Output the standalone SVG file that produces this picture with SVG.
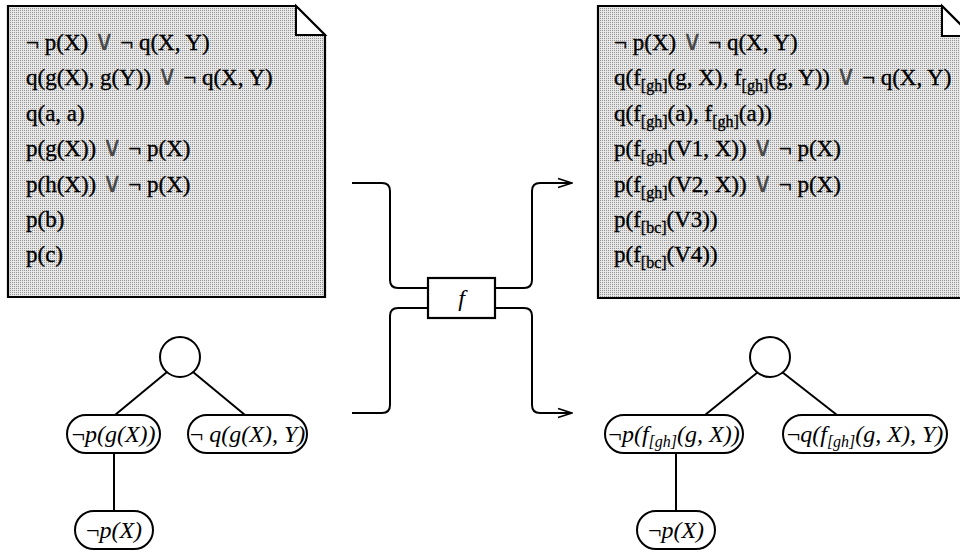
<svg xmlns="http://www.w3.org/2000/svg" width="960" height="554" viewBox="0 0 960 554">
<defs>
<pattern id="stip" width="2" height="2" patternUnits="userSpaceOnUse">
<rect width="2" height="2" fill="#e8e8e8"/>
<rect width="1" height="1" fill="#939393"/>
</pattern>
<marker id="arr" markerWidth="16" markerHeight="12" refX="15" refY="6" orient="auto" markerUnits="userSpaceOnUse">
<path d="M1,1.5 L15,6 L1,10.5" fill="none" stroke="#000" stroke-width="1.8"/>
</marker>
</defs>
<style>
.doc{fill:url(#stip);stroke:#000;stroke-width:2.2}
.fold{fill:#fff;stroke:#000;stroke-width:2}
.t{font-family:"Liberation Serif","Times New Roman",serif;font-size:23px;fill:#000;stroke:#000;stroke-width:0.35}
.or{font-family:"DejaVu Sans",sans-serif;font-size:28px;fill:#4a4a4a;stroke-width:0}
.sub{font-size:16px}
.wire{fill:none;stroke:#000;stroke-width:2}
.box{fill:#fff;stroke:#000;stroke-width:2.2}
.pill{fill:#fff;stroke:#000;stroke-width:2}
.ti{font-family:"Liberation Serif","Times New Roman",serif;font-size:24px;font-style:italic;fill:#000}
.neg{font-style:normal}
.edge{stroke:#000;stroke-width:2}
</style>

<g id="doc-left">
<path class="doc" d="M8,6 H296 L325,35 V297 H8 Z"/>
<path class="fold" d="M296,6 V35 H325 Z"/>
<text class="t" x="26" y="50">¬ p(X) <tspan class="or">∨</tspan> ¬ q(X, Y)</text>
<text class="t" x="26" y="85">q(g(X), g(Y)) <tspan class="or">∨</tspan> ¬ q(X, Y)</text>
<text class="t" x="26" y="121">q(a, a)</text>
<text class="t" x="26" y="156">p(g(X)) <tspan class="or">∨</tspan> ¬ p(X)</text>
<text class="t" x="26" y="192">p(h(X)) <tspan class="or">∨</tspan> ¬ p(X)</text>
<text class="t" x="26" y="227">p(b)</text>
<text class="t" x="26" y="262">p(c)</text>
</g>

<g id="doc-right">
<path class="doc" d="M598,6 H942 L972,36 V298 H598 Z"/>
<path class="fold" d="M942,6 V36 H972 Z"/>
<text class="t" x="614" y="50">¬ p(X) <tspan class="or">∨</tspan> ¬ q(X, Y)</text>
<text class="t" x="614" y="85">q(f<tspan class="sub" dy="6">[gh]</tspan><tspan dy="-6">(g, X), f</tspan><tspan class="sub" dy="6">[gh]</tspan><tspan dy="-6">(g, Y)) </tspan><tspan class="or">∨</tspan> ¬ q(X, Y)</text>
<text class="t" x="614" y="121">q(f<tspan class="sub" dy="6">[gh]</tspan><tspan dy="-6">(a), f</tspan><tspan class="sub" dy="6">[gh]</tspan><tspan dy="-6">(a))</tspan></text>
<text class="t" x="614" y="156">p(f<tspan class="sub" dy="6">[gh]</tspan><tspan dy="-6">(V1, X)) </tspan><tspan class="or">∨</tspan> ¬ p(X)</text>
<text class="t" x="614" y="192">p(f<tspan class="sub" dy="6">[gh]</tspan><tspan dy="-6">(V2, X)) </tspan><tspan class="or">∨</tspan> ¬ p(X)</text>
<text class="t" x="614" y="227">p(f<tspan class="sub" dy="6">[bc]</tspan><tspan dy="-6">(V3))</tspan></text>
<text class="t" x="614" y="262">p(f<tspan class="sub" dy="6">[bc]</tspan><tspan dy="-6">(V4))</tspan></text>
</g>

<g id="connectors">
<path class="wire" d="M352,183 H382 Q390,183 390,191 V280 Q390,288 398,288 H428"/>
<path class="wire" d="M352,413 H382 Q390,413 390,405 V316 Q390,308 398,308 H428"/>
<path class="wire" marker-end="url(#arr)" d="M495,288 H524 Q532,288 532,280 V191 Q532,183 540,183 H572"/>
<path class="wire" marker-end="url(#arr)" d="M495,308 H524 Q532,308 532,316 V405 Q532,413 540,413 H572"/>
<line class="edge" x1="167" y1="372" x2="115" y2="415"/>
<line class="edge" x1="193" y1="372" x2="245" y2="415"/>
<line class="edge" x1="114" y1="453" x2="114" y2="511"/>
<line class="edge" x1="758" y1="372" x2="705" y2="415"/>
<line class="edge" x1="782" y1="372" x2="837" y2="415"/>
<line class="edge" x1="676" y1="453" x2="676" y2="511"/>
</g>

<g id="f-box">
<rect class="box" x="428" y="278" width="67" height="40"/>
<text class="ti" x="461.5" y="306" text-anchor="middle" font-size="27">f</text>
</g>

<g id="tree-left-root"><circle class="pill" cx="180" cy="357" r="20"/></g>
<g id="tree-left-n1">
<rect class="pill" x="67" y="415" width="93" height="38" rx="19"/>
<text class="ti" x="113.5" y="442" text-anchor="middle"><tspan class="neg">¬</tspan>p(g(X))</text>
</g>
<g id="tree-left-n2">
<rect class="pill" x="188" y="415" width="119" height="38" rx="19"/>
<text class="ti" x="247.5" y="442" text-anchor="middle"><tspan class="neg">¬ </tspan>q(g(X), Y)</text>
</g>
<g id="tree-left-n3">
<rect class="pill" x="75" y="511" width="78" height="38" rx="19"/>
<text class="ti" x="114" y="538" text-anchor="middle"><tspan class="neg">¬</tspan>p(X)</text>
</g>

<g id="tree-right-root"><circle class="pill" cx="770" cy="357" r="20"/></g>
<g id="tree-right-n1">
<rect class="pill" x="605" y="415" width="138" height="38" rx="19"/>
<text class="ti" x="674" y="442" text-anchor="middle"><tspan class="neg">¬</tspan>p(f<tspan font-size="16" dy="5">[gh]</tspan><tspan dy="-5">(g, X))</tspan></text>
</g>
<g id="tree-right-n2">
<rect class="pill" x="783" y="415" width="164" height="38" rx="19"/>
<text class="ti" x="865" y="442" text-anchor="middle"><tspan class="neg">¬</tspan>q(f<tspan font-size="16" dy="5">[gh]</tspan><tspan dy="-5">(g, X), Y)</tspan></text>
</g>
<g id="tree-right-n3">
<rect class="pill" x="637" y="511" width="78" height="38" rx="19"/>
<text class="ti" x="676" y="538" text-anchor="middle"><tspan class="neg">¬</tspan>p(X)</text>
</g>
</svg>
